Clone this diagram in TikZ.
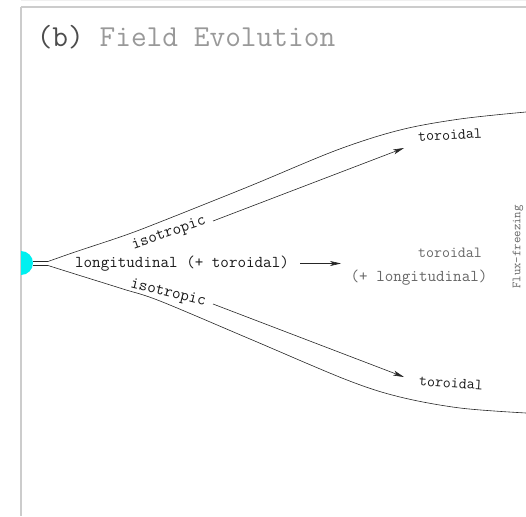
\documentclass[tikz,border=0pt]{standalone}
\usetikzlibrary{arrows.meta}
\definecolor{aqua}{RGB}{0,240,240}
\begin{document}
\begin{tikzpicture}[x=1pt,y=-1pt,
  frame/.style={draw=black!20, line width=1.3pt},
  curve/.style={draw=black!85, line width=0.6pt},
  arr/.style={draw=black!85, line width=0.6pt, -{Stealth[length=11pt,width=5pt,inset=3pt]}},
  lab/.style={font=\ttfamily\fontsize{16.6}{18}\selectfont, text=black!90, inner sep=0pt},
  tor/.style={font=\ttfamily\fontsize{15.5}{18}\selectfont, text=black!90, inner sep=0pt},
  grey/.style={text=black!60}]
\useasboundingbox (0,0) rectangle (526,516);
% frame
\draw[draw=black!6, line width=1pt] (21,0.6) -- (526,0.6);
\draw[frame] (21,7) -- (526,7);
\draw[frame] (21,7) -- (21,516);
% title
\node[inner sep=0pt, font=\ttfamily\fontsize{30.5}{34}\selectfont] (title) at (186,37)
  {\textcolor{black!70}{(b)} \textcolor{black!40}{Field Evolution}};
% source half-disk
\begin{scope}
\clip (21,240) rectangle (40,290);
\node[circle, fill=aqua, minimum size=24pt, inner sep=0pt] (src) at (21,263) {};
\end{scope}
% boundary curves
\draw[curve] (33,261.5) -- plot[smooth, tension=0.55] coordinates
  {(48,261.5) (75,252) (123,236) (160,222) (250,186) (337,150) (400,130) (460,119) (526,112)};
\draw[curve] (33,265.5) -- plot[smooth, tension=0.55] coordinates
  {(48,265.5) (75,274) (123,289) (160,301) (250,339) (347,380) (400,397) (460,408) (526,413)};
% labels
\node[lab, rotate=19] (iso1) at (169,233.5) {isotropic};
\node[lab, rotate=-14] (iso2) at (168,293.5) {isotropic};
\node[lab] (long) at (182,264) {longitudinal (+ toroidal)};
\node[tor, rotate=3] (tor1) at (450,135) {toroidal};
\node[tor, grey] (tor2) at (450,253) {toroidal};
\node[lab, grey] (tor2b) at (419,278) {(+ longitudinal)};
\node[tor, rotate=-4] (tor3) at (451,383) {toroidal};
\node[inner sep=0pt, rotate=90, text=black!60, font=\ttfamily\fontsize{12.5}{14}\selectfont] (flux) at (518,247) {Flux-freezing};
% arrows
\coordinate (a1s) at (213,221);
\coordinate (a1e) at (404,148);
\coordinate (a2s) at (213,304);
\coordinate (a2e) at (404,377);
\coordinate (a3s) at (300,263.5);
\coordinate (a3e) at (341,263.5);
\draw[arr] (a1s) -- (a1e);
\draw[arr] (a2s) -- (a2e);
\draw[arr] (a3s) -- (a3e);
\end{tikzpicture}
\end{document}
